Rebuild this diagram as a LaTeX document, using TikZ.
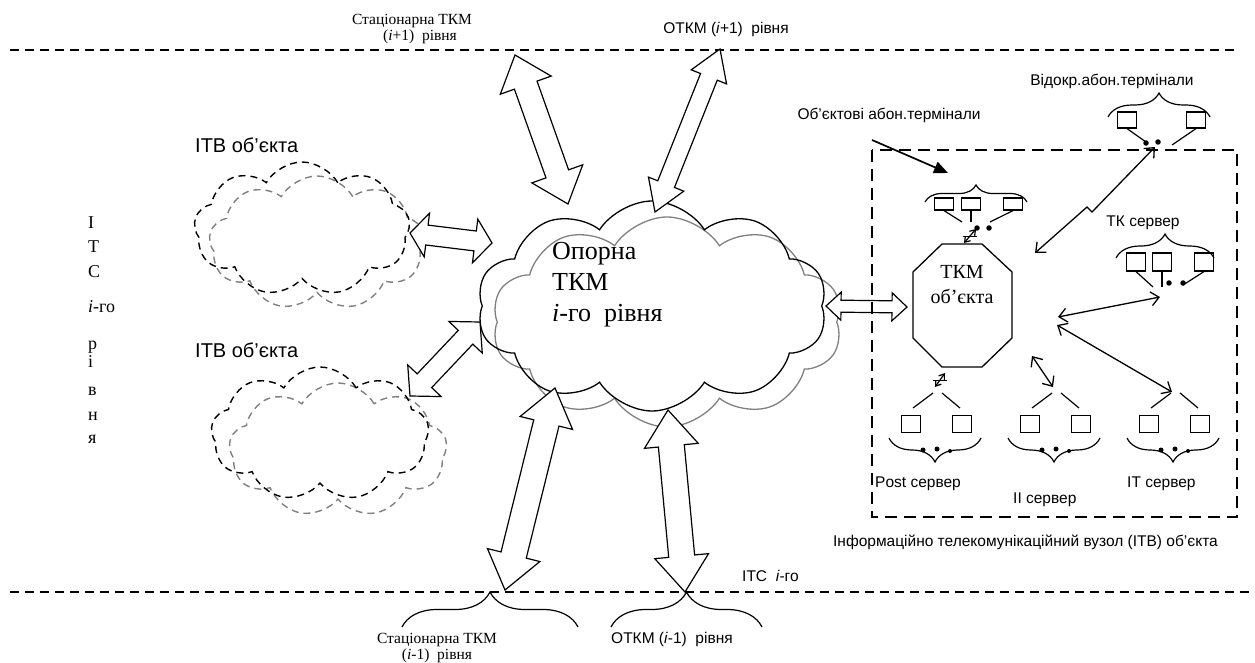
\documentclass[tikz,border=0pt]{standalone}
\usepackage{fontspec}
\setmainfont{Liberation Serif}
\setsansfont{Liberation Sans}
\usetikzlibrary{calc,shapes.symbols,decorations.pathreplacing,arrows.meta}
\newcommand{\harrow}[6]{%
  \coordinate (#1a) at ($(#2)!#6!(#3)$);
  \coordinate (#1b) at ($(#3)!#6!(#2)$);
  \draw[harr] (#2) -- ($(#1a)!#5!90:(#3)$) -- ($(#1a)!#4!90:(#3)$) -- ($(#1b)!#4!-90:(#2)$) -- ($(#1b)!#5!-90:(#2)$) -- (#3) -- ($(#1b)!#5!90:(#2)$) -- ($(#1b)!#4!90:(#2)$) -- ($(#1a)!#4!-90:(#3)$) -- ($(#1a)!#5!-90:(#3)$) -- cycle;}
\begin{document}
\begin{tikzpicture}[x=1pt,y=-1pt,
  sl/.style={font=\sffamily\fontsize{15.5}{17}\selectfont, inner sep=0pt},
  rl/.style={font=\fontsize{15.5}{17}\selectfont, inner sep=0pt},
  vl/.style={font=\fontsize{18}{20}\selectfont, inner sep=0pt, anchor=base west},
  harr/.style={draw, fill=white, line width=1.2pt, line join=miter},
  dline/.style={dash pattern=on 9pt off 6pt, line width=1.2pt},
  boxline/.style={dash pattern=on 12pt off 7pt, line width=1.1pt},
  cloudc/.style={cloud, cloud puffs=10, cloud puff arc=115, aspect=1.7, inner sep=0pt, line width=1.3pt},
  cloudd/.style={cloud, cloud puffs=9, cloud puff arc=120, aspect=1.65, inner sep=0pt, line width=1.4pt, dash pattern=on 7pt off 5pt},
  term/.style={draw, line width=1.2pt, minimum width=19pt, minimum height=16pt, inner sep=0pt},
  termsm/.style={draw, line width=1.2pt, minimum width=19pt, minimum height=12pt, inner sep=0pt},
  pt/.style={circle, fill, inner sep=0pt, minimum size=5.5pt},
  tl/.style={line width=1.2pt},
  brc/.style={decorate, decoration={brace, amplitude=#1}, line width=1.2pt},
  brc/.default=16pt,
  dbl/.style={line width=1.3pt, {Straight Barb[length=8pt,width=14pt]}-{Straight Barb[length=8pt,width=14pt]}},
  sm/.style={line width=1.2pt, {Straight Barb[length=5pt,width=7pt]}-{Straight Barb[length=5pt,width=7pt]}}
]
\useasboundingbox (0,0) rectangle (1255,663);

% level lines
\coordinate (tl1) at (10,50); \coordinate (tl2) at (1237,50);
\coordinate (bl1) at (10,592); \coordinate (bl2) at (1255,592);
\draw[dline] (tl1) -- (tl2);
\draw[dline] (bl1) -- (bl2);

% top labels
\node[rl, anchor=base] (st1) at (412,25) {Стаціонарна ТКМ};
\node[rl, anchor=base] (st2) at (420,41) {(\textit{i}+1)\ \ рівня};
\node[sl, anchor=base] (ot1) at (726,34) {ОТКМ (\textit{i}+1)\ \ рівня};

% left vertical text
\node[vl] (v1) at (88,228) {І};
\node[vl] (v2) at (88,252) {Т};
\node[vl] (v3) at (88,277) {С};
\node[vl] (v4) at (88,312) {\textit{i}-го};
\node[vl] (v5) at (88,349) {р};
\node[vl] (v6) at (88,367) {і};
\node[vl] (v7) at (88,395) {в};
\node[vl] (v8) at (88,420) {н};
\node[vl] (v9) at (88,443) {я};

% left clouds
\node[sl, font=\sffamily\fontsize{20}{22}\selectfont, anchor=base west] (itv1) at (195,153) {ІТВ об’єкта};
\node[sl, font=\sffamily\fontsize{20}{22}\selectfont, anchor=base west] (itv2) at (195,357) {ІТВ об’єкта};
\node[cloudd, draw=gray, minimum width=216pt, minimum height=134pt] (c1g) at (317,243) {};
\node[cloudd, draw=black, minimum width=216pt, minimum height=134pt] (c1) at (302,229) {};
\node[cloudd, draw=gray, minimum width=218pt, minimum height=134pt] (c2g) at (338,450) {};
\node[cloudd, draw=black, minimum width=218pt, minimum height=134pt] (c2) at (320,434) {};

% central cloud
\node[cloudc, draw=gray, minimum width=350pt, minimum height=210pt] (ccg) at (667,322) {};
\node[cloudc, draw=black, minimum width=350pt, minimum height=210pt] (cc) at (652,306) {};
\node[font=\fontsize{26}{31}\selectfont, inner sep=0pt, anchor=base west] (ct1) at (552,259) {Опорна};
\node[font=\fontsize{26}{31}\selectfont, inner sep=0pt, anchor=base west] (ct2) at (552,290) {ТКМ};
\node[font=\fontsize{26}{31}\selectfont, inner sep=0pt, anchor=base west] (ct3) at (552,321) {\textit{i}-го\ \ рівня};

% hollow double arrows
\coordinate (a1s) at (515,55);  \coordinate (a1e) at (568,204);
\coordinate (a2s) at (720,49);  \coordinate (a2e) at (655,212);
\coordinate (a3s) at (410,233); \coordinate (a3e) at (492,243);
\coordinate (a4s) at (410,396); \coordinate (a4e) at (480,322);
\coordinate (a5s) at (505,590); \coordinate (a5e) at (555,388);
\coordinate (a6s) at (685,592); \coordinate (a6e) at (668,410);
\coordinate (a7s) at (826,306); \coordinate (a7e) at (907,307);
\harrow{h1}{a1s}{a1e}{12pt}{27pt}{32pt}
\harrow{h2}{a2s}{a2e}{9pt}{19pt}{30pt}
\harrow{h3}{a3s}{a3e}{10pt}{22pt}{17pt}
\harrow{h4}{a4s}{a4e}{10pt}{23pt}{21pt}
\harrow{h5}{a5s}{a5e}{13pt}{27pt}{36pt}
\harrow{h6}{a6s}{a6e}{13pt}{27pt}{36pt}
\harrow{h7}{a7s}{a7e}{6pt}{14pt}{15pt}

% bottom braces and labels
\coordinate (b1l) at (402,627); \coordinate (b1r) at (578,627);
\coordinate (b2l) at (611,627); \coordinate (b2r) at (762,627);
\draw[brc=35pt] (b1l) -- (b1r);
\draw[brc=35pt] (b2l) -- (b2r);
\node[rl, anchor=base] (sb1) at (437,643) {Стаціонарна ТКМ};
\node[rl, anchor=base] (sb2) at (437,659) {(\textit{i}-1)\ \ рівня};
\node[sl, anchor=base west] (ob1) at (611,643) {ОТКМ (\textit{i}-1)\ \ рівня};
\node[sl, anchor=base west] (its) at (742,581) {ІТС\ \ \textit{i}-го};

% right box
\coordinate (rb1) at (872,150); \coordinate (rb2) at (1237,517);
\draw[boxline] (rb1) rectangle (rb2);
\node[sl, anchor=base east] (itvl) at (1218,546) {Інформаційно телекомунікаційний вузол (ІТВ) об’єкта};

% octagon
\draw[line width=1.3pt] (942,244) coordinate (o1) -- (982,244) -- (1012,272) -- (1012,338) -- (982,367) -- (942,367) coordinate (o6) -- (913,338) -- (913,272) -- cycle;
\node[font=\fontsize{20}{22}\selectfont, inner sep=0pt, anchor=base] (ok1) at (962,278) {ТКМ};
\node[font=\fontsize{20}{22}\selectfont, inner sep=0pt, anchor=base] (ok2) at (962,303) {об’єкта};

% object terminals
\node[sl, anchor=base] (objl) at (889,120) {Об’єктові абон.термінали};
\coordinate (objs) at (872,140); \coordinate (obje) at (948,173);
\draw[line width=1.7pt, -{Triangle[length=14pt,width=12pt]}] (objs) -- (obje);
\draw[brc=17pt] (925,202) -- (1027,202);
\node[termsm] (ot1r) at (944,204) {};
\node[termsm] (ot2r) at (971,204) {};
\node[termsm] (ot3r) at (1013,204) {};
\draw[tl] (ot1r.south) -- (962,222);
\draw[tl] (ot2r.south) -- (971,222);
\draw[tl] (ot3r.south) -- (990,222);
\node[pt] (od1) at (977,228) {};
\node[pt] (od2) at (989,228) {};
\coordinate (sz1) at (964,243); \coordinate (sz2) at (976,229);
\draw[sm] (sz1) -- (sz2);
\draw[line width=1pt] (963,236) -- (977,236);

% open terminals
\node[sl, anchor=base] (vidl) at (1112,86) {Відокр.абон.термінали};
\draw[brc=24pt] (1108,117) -- (1210,117);
\node[term] (vt1) at (1127,120) {};
\node[term] (vt2) at (1196,120) {};
\draw[tl] (vt1.south) -- (1146,142);
\draw[tl] (vt2.south) -- (1172,145);
\node[pt] (vd1) at (1146,143) {};
\node[pt] (vd2) at (1158,142) {};
\coordinate (lz1) at (1035,253); \coordinate (lz2) at (1155,147);
\draw[dbl, line join=miter] (lz1) -- (1087,207) -- (1092,212) -- (lz2);

% TK server
\node[sl, anchor=base] (tkl) at (1143,226) {ТК сервер};
\draw[brc=24pt] (1116,258) -- (1214,258);
\node[term, minimum height=18pt] (tk1) at (1136,262) {};
\node[term, minimum height=18pt] (tk2) at (1162,262) {};
\node[term, minimum height=18pt] (tk3) at (1204,262) {};
\draw[tl] (tk1.south) -- (1153,287);
\draw[tl] (tk2.south) -- (1162,287);
\draw[tl] (tk3.south) -- (1183,285);
\node[pt] (td1) at (1169,283) {};
\node[pt] (td2) at (1183,283) {};

% arrows inside box
\coordinate (ar1) at (1058,317); \coordinate (ar2) at (1160,297);
\coordinate (ar3) at (1057,325); \coordinate (ar4) at (1172,392);
\coordinate (ar5) at (1032,356); \coordinate (ar6) at (1053,387);
\draw[dbl] (ar1) -- (ar2);
\draw[dbl] (ar3) -- (ar4);
\draw[dbl] (ar5) -- (ar6);
\coordinate (sp1) at (935,387); \coordinate (sp2) at (945,373);
\draw[sm] (sp1) -- (sp2);
\draw[line width=1pt] (933,380) -- (947,380);

% bottom server groups
\foreach \n/\cx in {p/936, ii/1055, it/1174} {
  \draw[tl] (\cx-23,408) -- (\cx-3,393);
  \draw[tl] (\cx+6,393) -- (\cx+24,408);
  \node[term, minimum height=17pt] (\n s1) at (\cx-25,424) {};
  \node[term, minimum height=17pt] (\n s2) at (\cx+26,424) {};
  \draw[brc=24pt] (\cx+45,438) -- (\cx-47,438);
  \node[pt, minimum size=5pt] (\n d1) at (\cx-13,450) {};
  \node[pt, minimum size=5pt] (\n d2) at (\cx+1,449) {};
  \node[pt, minimum size=4pt] (\n d3) at (\cx+14,451) {};
}
\node[sl, anchor=base west] (postl) at (875,487) {Post сервер};
\node[sl, anchor=base west] (iil) at (1013,503) {II сервер};
\node[sl, anchor=base west] (itl) at (1127,487) {IT сервер};
\end{tikzpicture}
\end{document}
